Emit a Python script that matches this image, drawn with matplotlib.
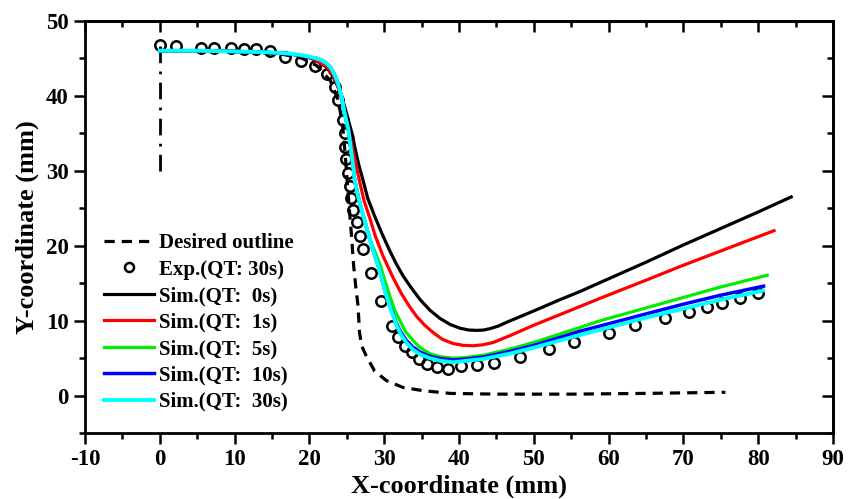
import matplotlib
matplotlib.use("Agg")
import matplotlib.pyplot as plt

plt.rcParams['font.family'] = ['Liberation Serif', 'DejaVu Serif']
plt.rcParams['font.weight'] = 'bold'
plt.rcParams['axes.unicode_minus'] = False

# ---- data ----
axis_x = [0, 0]
axis_y = [30, 46.9]

desired_x = [0, 10, 16, 19, 21, 22.8, 23.8, 24.4, 24.8, 25.2, 25.6, 25.9, 26.2, 26.5, 26.7, 27.0, 27.6, 28.7, 30.3, 32.5, 35.2, 38.8, 45, 55, 65, 75.6]
desired_y = [46.0, 45.9, 45.6, 45.0, 44.0, 42.0, 39.5, 36.5, 32.0, 26.6, 21.7, 17.5, 14.5, 12.0, 8.4, 6.6, 5.3, 3.3, 2.0, 1.1, 0.66, 0.3, 0.2, 0.2, 0.3, 0.45]

exp_x = [0, 2.2, 5.5, 7.3, 9.5, 11.3, 12.9, 14.7, 16.7, 18.9, 20.7, 22.3, 23.4, 23.8, 24.5, 24.7, 24.7, 24.9, 25.2, 25.4,
         25.6, 25.8, 26.3, 26.7, 27.2, 28.3, 29.6, 31.0, 31.9, 32.8, 33.7, 34.6, 35.7, 37.0, 38.5, 40.3, 42.4, 44.7,
         48.2, 52.0, 55.3, 60.1, 63.5, 67.5, 70.8, 73.1, 75.2, 77.5, 80.0]
exp_y = [46.8, 46.6, 46.4, 46.3, 46.3, 46.2, 46.2, 46.0, 45.2, 44.6, 44.0, 42.9, 41.2, 39.4, 36.8, 35.0, 33.2, 31.5, 29.7, 27.9,
         26.4, 24.8, 23.1, 21.3, 19.5, 16.4, 12.6, 9.3, 7.8, 6.6, 5.8, 4.9, 4.2, 3.8, 3.55, 3.9, 4.1, 4.4,
         5.2, 6.2, 7.1, 8.4, 9.4, 10.3, 11.2, 11.8, 12.3, 13.0, 13.7]

top_x = [0, 5, 10, 14, 17, 18.7, 20.0]
top_y = [46.0, 46.0, 45.9, 45.8, 45.6, 45.4, 45.1]

sim0_x = top_x + [20.9, 22.3, 23.15, 23.8, 24.3, 24.7, 25.3, 25.8, 26.05, 26.6, 27.2, 27.8, 28.7, 29.7, 30.75, 31.6, 32.5, 33.6,
                  34.8, 36.1, 37.45, 38.8, 40.1, 41.3, 42.4, 43.3, 44.2, 45.3, 46.4, 50.0, 53.5, 56.2, 58.9, 65, 70, 75, 80, 84.4]
sim0_y = top_y + [44.7, 43.8, 42.6, 41.2, 39.8, 38.6, 36.4, 34.6, 33.2, 30.8, 28.6, 26.3, 24.0, 21.6, 19.3, 17.6, 16.0, 14.4,
                  12.8, 11.4, 10.3, 9.5, 9.0, 8.75, 8.7, 8.75, 8.95, 9.3, 9.8, 11.3, 12.8, 13.9, 15.1, 17.8, 20.1, 22.3, 24.5, 26.5]

sim1_x = top_x + [20.9, 22.3, 23.15, 23.8, 24.3, 24.8, 25.3, 25.7, 26.2, 26.7, 27.3, 28.1, 28.8, 29.85, 31.2, 32.3, 33.3, 34.3,
                  35.4, 36.55, 37.8, 39.2, 40.6, 41.9, 43.3, 44.6, 46.8, 50.0, 56.2, 58.9, 65, 70, 75, 82.1]
sim1_y = top_y + [44.7, 43.9, 42.8, 41.3, 39.6, 37.5, 35.2, 33.2, 30.9, 28.6, 26.0, 23.6, 21.3, 18.6, 15.7, 13.6, 12.0, 10.6,
                  9.4, 8.4, 7.5, 6.95, 6.7, 6.65, 6.8, 7.1, 8.0, 9.4, 11.9, 13.0, 15.4, 17.4, 19.3, 22.0]

desc_x = [20.9, 21.7, 22.3, 22.8, 23.15, 23.5, 23.8, 24.3, 24.7, 25.2, 25.5, 25.8, 26.05, 26.5, 27.0, 27.5, 28.1]
desc_y = [45.0, 44.7, 44.3, 43.8, 43.2, 42.5, 41.7, 39.9, 37.7, 35.5, 33.2, 31.0, 28.8, 26.6, 24.7, 22.9, 20.8]

sim5_x = top_x + desc_x + [28.8, 29.5, 30.1, 30.75, 31.4, 32.1, 32.8, 33.9, 34.8, 36.1, 37.45, 39.2, 40.6, 43.3, 46.8, 50, 56.2,
                           58.9, 65, 70, 75, 81.2]
sim5_y = top_y + desc_y + [19.1, 17.3, 15.3, 13.3, 11.4, 10.0, 8.6, 7.3, 6.4, 5.6, 5.2, 5.0, 5.05, 5.4, 6.2, 7.1, 9.1,
                           10.0, 11.7, 13.1, 14.5, 16.05]

sim10_x = top_x + desc_x + [28.6, 29.2, 29.75, 30.3, 31.0, 31.6, 32.2, 33.0, 33.9, 34.8, 36.1, 37.45, 39.2, 40.6, 43.3, 46.8,
                            50, 56.2, 58.9, 65, 70, 75, 80.7]
sim10_y = top_y + desc_y + [19.1, 17.3, 15.3, 13.3, 11.4, 9.7, 8.5, 7.3, 6.4, 5.8, 5.25, 4.95, 4.75, 4.85, 5.15, 5.9,
                            6.7, 8.6, 9.3, 10.9, 12.2, 13.4, 14.6]

sim30_x = top_x + desc_x + [28.6, 29.2, 29.75, 30.3, 31.0, 31.6, 32.2, 33.0, 33.9, 34.8, 36.1, 37.45, 39.2, 40.6, 43.3, 46.8,
                            50, 56.2, 58.9, 65, 70, 75, 80.6]
sim30_y = [46.0, 46.0, 45.9, 45.8, 45.65, 45.45, 45.2] + desc_y + [19.1, 17.3, 15.3, 13.3, 11.2, 9.5, 8.2, 7.0, 6.1, 5.5,
                            5.0, 4.65, 4.45, 4.6, 4.9, 5.6, 6.4, 8.1, 8.8, 10.4, 11.6, 12.8, 14.0]

labels = ['Desired outline', 'Exp.(QT: 30s)', 'Sim.(QT:  0s)', 'Sim.(QT:  1s)',
          'Sim.(QT:  5s)', 'Sim.(QT:  10s)', 'Sim.(QT:  30s)']
x_ticks = [-10, 0, 10, 20, 30, 40, 50, 60, 70, 80, 90]
y_ticks = [0, 10, 20, 30, 40, 50]

# ---- figure ----
fig = plt.figure(figsize=(8.58, 4.99), dpi=100)
ax = fig.add_axes([0.099, 0.132, 0.872, 0.8265])

ax.plot(axis_x, axis_y, color='black', lw=2.0, linestyle=(0, (6, 3, 1, 3)))
h_des, = ax.plot(desired_x, desired_y, color='black', lw=2.3, linestyle=(0, (3.2, 2.2)), label=labels[0])
h_exp, = ax.plot(exp_x, exp_y, linestyle='none', marker='o', ms=7.5, mfc='none', mec='black', mew=1.8, label=labels[1])
h0, = ax.plot(sim0_x, sim0_y, color='black', lw=2.3, label=labels[2])
h1, = ax.plot(sim1_x, sim1_y, color='#ff0000', lw=2.3, label=labels[3])
h5, = ax.plot(sim5_x, sim5_y, color='#00ee00', lw=2.3, label=labels[4])
h10, = ax.plot(sim10_x, sim10_y, color='#0000ff', lw=2.5, label=labels[5])
h30, = ax.plot(sim30_x, sim30_y, color='#00ffff', lw=2.8, label=labels[6])

ax.set_xlim(-10, 90)
ax.set_ylim(-5, 50)
ax.set_xticks(x_ticks)
ax.set_yticks(y_ticks)
ax.set_xticks([v + 5 for v in x_ticks[:-1]], minor=True)
ax.set_yticks([-5] + [v + 5 for v in y_ticks[:-1]], minor=True)
ax.tick_params(which='both', direction='out', width=1.8, labelsize=16.5)
ax.tick_params(which='major', length=8)
ax.tick_params(which='minor', length=4)
for s in ax.spines.values():
    s.set_linewidth(2.0)

secx = ax.secondary_xaxis('top')
secx.set_xticks(x_ticks)
secx.set_xticks([v + 5 for v in x_ticks[:-1]], minor=True)
secx.tick_params(which='both', direction='in', width=1.8, labeltop=False)
secx.tick_params(which='major', length=8)
secx.tick_params(which='minor', length=4)
secx.spines['top'].set_linewidth(2.0)
secy = ax.secondary_yaxis('right')
secy.set_yticks(y_ticks)
secy.set_yticks([-5] + [v + 5 for v in y_ticks[:-1]], minor=True)
secy.tick_params(which='both', direction='in', width=1.8, labelright=False)
secy.tick_params(which='major', length=8)
secy.tick_params(which='minor', length=4)
secy.spines['right'].set_linewidth(2.0)

ax.set_xlabel('X-coordinate (mm)', fontsize=19, fontweight='bold', labelpad=3)
ax.set_ylabel('Y-coordinate (mm)', fontsize=19, fontweight='bold', labelpad=5)

leg = ax.legend(handles=[h_des, h_exp, h0, h1, h5, h10, h30], loc='upper left',
                bbox_to_anchor=(0.014, 0.505), frameon=False, fontsize=15, numpoints=1,
                handlelength=2.4, handletextpad=0.25, labelspacing=0.31, borderaxespad=0.0)
for lh in leg.legend_handles:
    if lh.get_marker() == 'o':
        lh.set_markersize(6.5)

fig.savefig('out.png', dpi=100)
